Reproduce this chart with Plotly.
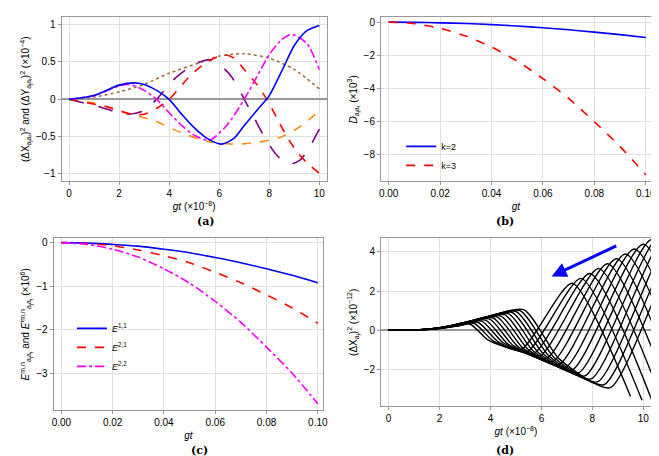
import plotly.graph_objects as go

# ---- panel (a) ----
a_blue_t = [0, 1, 2, 2.6, 3, 3.5, 4, 4.5, 5, 5.5, 6.1, 6.6, 7, 7.5, 8, 8.5, 9, 9.5, 10]
a_blue_y = [0, 0.05, 0.19, 0.22, 0.2, 0.12, 0.0, -0.2, -0.38, -0.52, -0.6, -0.52, -0.35, -0.15, 0.05, 0.38, 0.72, 0.92, 0.99]
a_mag_t = [0, 1, 2, 2.4, 3, 3.5, 4, 4.5, 5, 5.6, 6.3, 7.0, 7.5, 8, 8.5, 8.9, 9.5, 10]
a_mag_y = [0, 0.05, 0.18, 0.2, 0.12, 0.0, -0.18, -0.35, -0.48, -0.55, -0.35, 0.0, 0.3, 0.6, 0.8, 0.87, 0.75, 0.4]
a_brown_t = [0, 1, 2, 3, 4, 5.3, 6, 7, 8, 9, 10]
a_brown_y = [0, 0.03, 0.1, 0.2, 0.35, 0.5, 0.58, 0.61, 0.55, 0.4, 0.14]
a_red_t = [0, 1.5, 2.5, 3, 3.5, 4, 4.8, 5.3, 5.8, 6.2, 6.6, 7, 7.5, 7.9, 8.3, 8.7, 9.1, 9.5, 10]
a_red_y = [0, -0.1, -0.2, -0.2, -0.12, 0.0, 0.3, 0.45, 0.55, 0.6, 0.55, 0.4, 0.2, 0.0, -0.25, -0.5, -0.7, -0.85, -0.99]
a_purple_t = [0, 1.2, 2.3, 3, 3.5, 4, 4.3, 5, 5.6, 6, 6.5, 7, 7.4, 7.8, 8.3, 8.8, 9.2, 9.5, 10]
a_purple_y = [0, -0.1, -0.2, -0.15, 0.0, 0.2, 0.3, 0.47, 0.53, 0.47, 0.3, 0.0, -0.25, -0.5, -0.75, -0.87, -0.82, -0.7, -0.4]
a_orange_t = [0, 1, 2, 3.5, 4.5, 5.5, 6.5, 7.5, 8.5, 9.3, 10]
a_orange_y = [0, -0.05, -0.15, -0.3, -0.45, -0.56, -0.6, -0.58, -0.5, -0.35, -0.15]

# ---- panel (b) ----
b_t = [0, 0.01, 0.02, 0.03, 0.04, 0.05, 0.06, 0.07, 0.08, 0.09, 0.1]
b_k2 = [0, -0.01, -0.04, -0.08, -0.15, -0.23, -0.34, -0.46, -0.6, -0.75, -0.92]
b_k3 = [0, -0.09, -0.37, -0.84, -1.5, -2.35, -3.4, -4.6, -6.0, -7.5, -9.2]

# ---- panel (c) ----
c_t = [0, 0.01, 0.02, 0.03, 0.04, 0.05, 0.06, 0.07, 0.08, 0.09, 0.1]
c_e11 = [0, -0.01, -0.04, -0.08, -0.15, -0.23, -0.34, -0.46, -0.6, -0.75, -0.92]
c_e21 = [0, -0.02, -0.07, -0.17, -0.3, -0.46, -0.68, -0.92, -1.2, -1.5, -1.85]
c_e22 = [0, -0.04, -0.15, -0.33, -0.6, -0.93, -1.35, -1.83, -2.4, -3.0, -3.7]

# ---- panel (d): key points of each curve ----
d_t1 = [3.20, 3.35, 3.50, 3.65, 3.80, 3.95, 4.10, 4.25, 4.40, 4.55, 4.70, 4.85, 5.00, 5.15, 5.30]
d_y1 = [0.30, 0.35, 0.40, 0.46, 0.51, 0.57, 0.62, 0.68, 0.73, 0.79, 0.84, 0.90, 0.95, 1.00, 1.05]
d_tz = [3.9, 4.1, 4.3, 4.5, 4.7, 4.9, 5.1, 5.3, 5.5, 5.7, 5.9, 6.1, 6.3, 6.5, 6.7]
d_tt = [5.2, 5.45, 5.7, 5.95, 6.2, 6.45, 6.7, 6.95, 7.2, 7.45, 7.7, 7.95, 8.2, 8.45, 8.7]
d_yt = [-1.0, -1.1, -1.2, -1.3, -1.45, -1.6, -1.75, -1.9, -2.05, -2.2, -2.35, -2.5, -2.65, -2.8, -2.95]
d_t2 = [7.2, 7.55, 7.9, 8.25, 8.6, 8.95, 9.3, 9.65, 10.0, 10.35, 10.7, 11.05, 11.4, 11.75, 12.1]
d_y2 = [2.4, 2.65, 2.9, 3.15, 3.4, 3.65, 3.9, 4.15, 4.4, 4.65, 4.9, 5.15, 5.4, 5.65, 5.9]
d_t3 = [9.5, 9.95, 10.4, 10.85, 11.3, 11.75, 12.2, 12.65, 13.1, 13.55, 14.0, 14.45, 14.9, 15.35, 15.8]
d_y3 = [-3.4, -3.6, -3.8, -4.0, -4.2, -4.4, -4.6, -4.8, -5.0, -5.2, -5.4, -5.6, -5.8, -6.0, -6.2]

fig = go.Figure()
F = "Liberation Sans, Arial, sans-serif"

def add(x, y, color, dash, xa, ya, name=None, legend=None, width=1.6, sm=0.7):
    fig.add_trace(go.Scatter(x=x, y=y, mode="lines", line=dict(color=color, dash=dash, width=width, shape="spline", smoothing=sm),
                             xaxis=xa, yaxis=ya, name=name or "", showlegend=legend is not None,
                             legend=legend or "legend"))

add(a_brown_t, a_brown_y, "#a0703a", "dot", "x", "y")
add(a_orange_t, a_orange_y, "#ff8c1a", "dash", "x", "y")
add(a_purple_t, a_purple_y, "#800080", "longdash", "x", "y")
add(a_red_t, a_red_y, "red", "dash", "x", "y")
add(a_mag_t, a_mag_y, "magenta", "dashdot", "x", "y")
add(a_blue_t, a_blue_y, "blue", "solid", "x", "y")

add(b_t, b_k2, "blue", "solid", "x2", "y2", "k=2", "legend")
add(b_t, b_k3, "red", "dash", "x2", "y2", "k=3", "legend")

add(c_t, c_e11, "blue", "solid", "x3", "y3", "<i>E</i><sup>1,1</sup>", "legend2")
add(c_t, c_e21, "red", "dash", "x3", "y3", "<i>E</i><sup>2,1</sup>", "legend2")
add(c_t, c_e22, "magenta", "dashdot", "x3", "y3", "<i>E</i><sup>2,2</sup>", "legend2")

for i in range(len(d_t1)):
    xs = [0, 0.25 * d_t1[i], 0.55 * d_t1[i], d_t1[i], d_tz[i], d_tt[i], d_t2[i], d_t3[i]]
    ys = [0, 0, 0.25 * d_y1[i], d_y1[i], 0.5 * d_yt[i], d_yt[i], d_y2[i], d_y3[i]]
    add(xs, ys, "black", "solid", "x4", "y4", width=1.4, sm=0.6)

dom = {
    "a": ([0.079, 0.486], [0.621, 0.982]),
    "b": ([0.569, 0.983], [0.621, 0.982]),
    "c": ([0.067, 0.480], [0.118, 0.496]),
    "d": ([0.569, 0.983], [0.127, 0.496]),
}
ax = dict(showline=True, mirror=True, linecolor="#999", gridcolor="#e0e0e0", ticks="outside",
          tickcolor="#999", ticklen=3, tickfont=dict(size=10, color="black"), zeroline=False)
ttl = dict(size=10, color="black")

def xa(d, rng, tickvals, fmt=None, title=""):
    r = dict(ax, domain=dom[d][0], range=rng, tickvals=tickvals, title=dict(text=title, font=ttl, standoff=4))
    if fmt: r["tickformat"] = fmt
    return r

def ya(d, rng, tickvals, title="", zl=True):
    return dict(ax, domain=dom[d][1], range=rng, tickvals=tickvals, zeroline=zl, zerolinecolor="#999", zerolinewidth=1.5,
                title=dict(text=title, font=ttl, standoff=4))

fig.update_layout(
    width=659, height=456, margin=dict(l=0, r=0, t=0, b=0),
    paper_bgcolor="white", plot_bgcolor="white", font=dict(family=F, size=10, color="black"),
    xaxis=dict(xa("a", [-0.3, 10.3], [0, 2, 4, 6, 8, 10], title="<i>gt</i> (×10<sup>−8</sup>)"), anchor="y"),
    yaxis=dict(ya("a", [-1.1, 1.1], [-1, -0.5, 0, 0.5, 1],
                  "(ΔX<sub>a<sub>j</sub>a<sub>r</sub></sub>)<sup>2</sup> and (ΔY<sub>a<sub>j</sub>a<sub>r</sub></sub>)<sup>2</sup> (×10<sup>−4</sup>)"), anchor="x"),
    xaxis2=dict(xa("b", [-0.003, 0.102], [0, 0.02, 0.04, 0.06, 0.08, 0.1], ".2f", "<i>gt</i>"), anchor="y2"),
    yaxis2=dict(ya("b", [-9.6, 0.3], [-8, -6, -4, -2, 0], "<i>D</i><sub>a<sub>j</sub>a<sub>r</sub></sub> (×10<sup>3</sup>)", False), anchor="x2"),
    xaxis3=dict(xa("c", [-0.003, 0.102], [0, 0.02, 0.04, 0.06, 0.08, 0.1], ".2f", "<i>gt</i>"), anchor="y3"),
    yaxis3=dict(ya("c", [-3.85, 0.1], [-3, -2, -1, 0], "<i>E</i><sup>m,n</sup><sub>a<sub>j</sub>a<sub>r</sub></sub> and <i>E</i>′<sup>m,n</sup><sub>a<sub>j</sub>a<sub>r</sub></sub> (×10<sup>6</sup>)", False), anchor="x3"),
    xaxis4=dict(xa("d", [-0.3, 10.3], [0, 2, 4, 6, 8, 10], title="<i>gt</i> (×10<sup>−8</sup>)"), anchor="y4"),
    yaxis4=dict(ya("d", [-3.9, 4.7], [-2, 0, 2, 4], "(ΔX<sub>a<sub>j</sub></sub>)<sup>2</sup> (×10<sup>−12</sup>)"), anchor="x4"),
    legend=dict(x=0.6, y=0.73, xanchor="left", yanchor="top", bgcolor="rgba(0,0,0,0)", font=dict(size=9)),
    legend2=dict(x=0.095, y=0.33, xanchor="left", yanchor="top", bgcolor="rgba(0,0,0,0)", font=dict(size=9)),
)

for txt, x, y in [("(a)", 0.283, 0.515), ("(b)", 0.776, 0.515), ("(c)", 0.274, 0.012), ("(d)", 0.776, 0.012)]:
    fig.add_annotation(text="<b>" + txt + "</b>", x=x, y=y, xref="paper", yref="paper", showarrow=False,
                       font=dict(family="DejaVu Serif, serif", size=11), yanchor="bottom")

fig.add_annotation(x=6.4, y=2.75, ax=9.0, ay=4.35, xref="x4", yref="y4", axref="x4", ayref="y4",
                   showarrow=True, arrowhead=2, arrowsize=1, arrowwidth=3, arrowcolor="blue", text="")

fig.write_html("out.html")
